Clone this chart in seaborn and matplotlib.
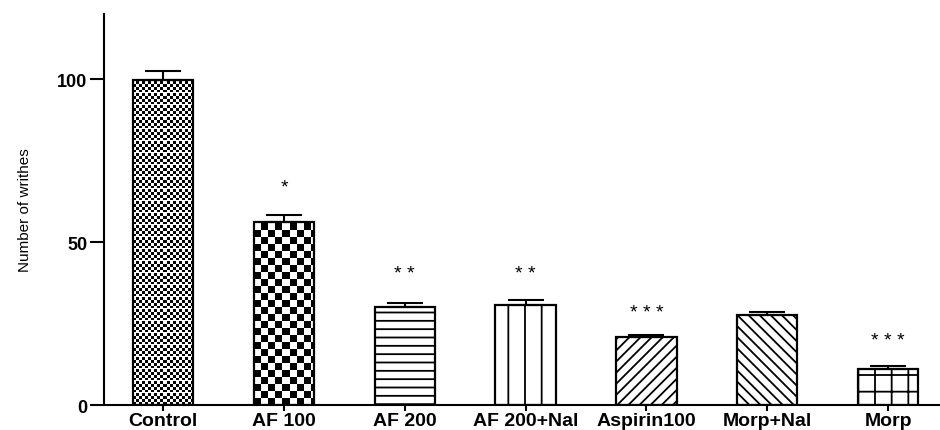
import matplotlib
matplotlib.use("Agg")
import matplotlib.pyplot as plt
import seaborn as sns
import numpy as np
import pandas as pd

groups = ["Control", "AF 100", "AF 200", "AF 200+Nal", "Aspirin100", "Morp+Nal", "Morp"]
means = [99.7, 56.1, 30.2, 30.7, 20.8, 27.6, 11.0]
sems = [2.7, 2.2, 1.1, 1.5, 0.6, 0.9, 1.0]
stars = ["", "*", "**", "**", "***", "", "***"]
star_y = [0, 67.0, 40.3, 40.3, 28.3, 0, 19.8]

sns.set_style("ticks", {"axes.edgecolor": "black", "text.color": "black",
                        "xtick.color": "black", "ytick.color": "black",
                        "axes.labelcolor": "black"})
plt.rcParams["font.family"] = ["Liberation Sans", "DejaVu Sans"]
plt.rcParams["hatch.linewidth"] = 1.3

df = pd.DataFrame({"group": groups, "writhes": means})

fig = plt.figure(figsize=(9.4, 4.31), dpi=100)
ax = fig.add_axes([0.1106, 0.058, 0.8894, 0.907])

sns.barplot(data=df, x="group", y="writhes", color="white", edgecolor="black",
            linewidth=1.6, width=0.5, errorbar=None, ax=ax)
ax.set_xlim(-0.49, 6.43)
ax.set_ylim(0, 120)

ax.errorbar(range(len(groups)), means, yerr=[np.zeros(len(sems)), sems], fmt="none",
            ecolor="black", elinewidth=1.5, capsize=13, capthick=1.5, zorder=1)

hatches = [None, None, "--", "|", "///", "\\\\\\", "+"]
for bar, h in zip(ax.patches, hatches):
    if h:
        bar.set_hatch(h)


def checker(bar, cell, band=None):
    # pattern fill for the two checkerboard bars
    x0, y0 = bar.get_x(), bar.get_y()
    w, h = bar.get_width(), bar.get_height()
    (px0, py0), (px1, py1) = ax.transData.transform([(x0, y0), (x0 + w, y0 + h)])
    nx, ny = int(round(px1 - px0)), int(round(py1 - py0))
    yy, xx = np.mgrid[0:ny, 0:nx]
    img = ((xx // cell + yy // cell) % 2 == 0).astype(float)
    if band:
        img[(yy % band) == 0] = 0
    im = ax.imshow(img, cmap="gray_r", vmin=0, vmax=1, origin="lower",
                   extent=[x0, x0 + w, y0, y0 + h], interpolation="nearest",
                   aspect="auto", zorder=bar.get_zorder() - 0.1)
    im.set_clip_path(bar)
    bar.set_facecolor("none")


checker(ax.patches[0], 3, band=12)
checker(ax.patches[1], 7)
ax.set_xlim(-0.49, 6.43)
ax.set_ylim(0, 120)

for i, (s, y) in enumerate(zip(stars, star_y)):
    if s:
        ax.text(i, y, " ".join(s), ha="center", va="center", fontsize=14, color="black")

sns.despine(ax=ax)
for sp in ["left", "bottom"]:
    ax.spines[sp].set_linewidth(1.5)
ax.set_yticks([0, 50, 100])
ax.tick_params(axis="y", length=10, width=1.5, labelsize=13, pad=2)
ax.tick_params(axis="x", length=4, width=1.5, labelsize=14, pad=1)
for t in ax.get_yticklabels():
    t.set_fontweight("bold")
for t in ax.get_xticklabels():
    t.set_fontweight("bold")
ax.set_xlabel("")
ax.set_ylabel("Number of writhes", fontsize=11, labelpad=18)

fig.savefig("out.png", dpi=100)
